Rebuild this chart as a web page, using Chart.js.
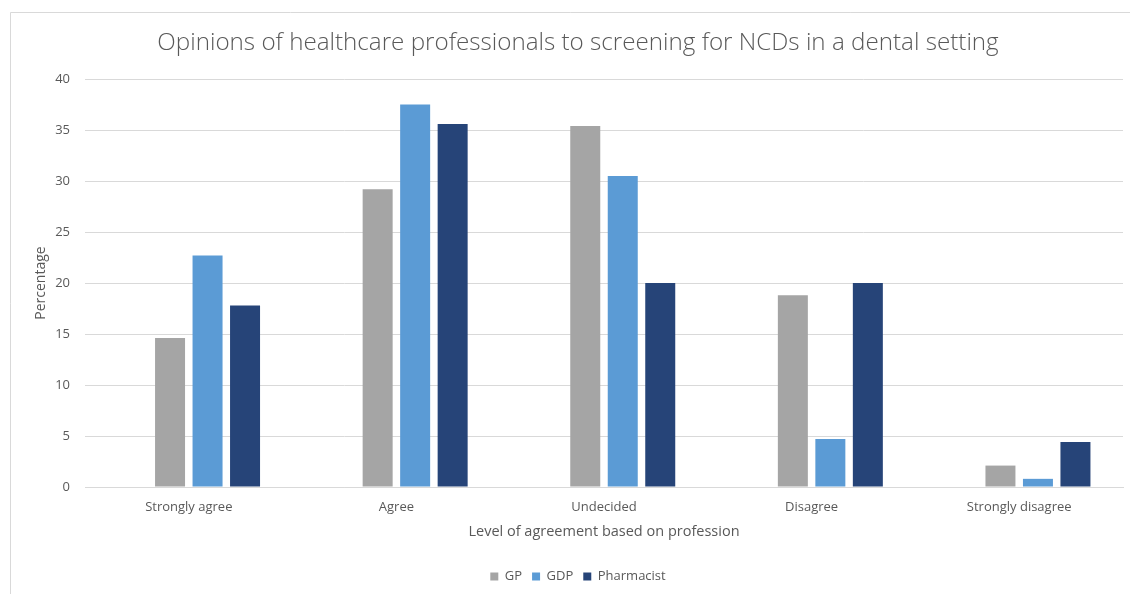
<!DOCTYPE html>
<html>
<head>
<meta charset="utf-8">
<script src="https://cdn.jsdelivr.net/npm/chart.js@4"></script>
<style>
html,body{margin:0;padding:0;background:#fff;}
#wrap{position:absolute;left:0;top:0;width:1130px;height:594px;}
</style>
</head>
<body>
<div id="wrap"><canvas id="c" width="1130" height="594"></canvas></div>
<script>
const categories = ["Strongly agree", "Agree", "Undecided", "Disagree", "Strongly disagree"];
const gpValues = [14.6, 29.2, 35.4, 18.8, 2.1];
const gdpValues = [22.7, 37.5, 30.5, 4.7, 0.8];
const pharmacistValues = [17.8, 35.6, 20.0, 20.0, 4.4];
const emptySeries = [null, null, null, null, null];
const yTicks = [0, 5, 10, 15, 20, 25, 30, 35, 40];

const FONT = "'Open Sans', 'Liberation Sans', sans-serif";
const TXT = '#595959';

const framePlugin = {
  id: 'frame',
  beforeDraw(chart) {
    const ctx = chart.ctx;
    ctx.save();
    ctx.fillStyle = '#fff';
    ctx.fillRect(0, 0, chart.width, chart.height);
    ctx.strokeStyle = '#d9d9d9';
    ctx.lineWidth = 1;
    ctx.beginPath();
    ctx.moveTo(10.5, chart.height);
    ctx.lineTo(10.5, 12.5);
    ctx.lineTo(chart.width, 12.5);
    ctx.stroke();
    ctx.restore();
  }
};

new Chart(document.getElementById('c'), {
  type: 'bar',
  data: {
    labels: categories,
    datasets: [
      { label: '', data: emptySeries, backgroundColor: 'rgba(0,0,0,0)' },
      { label: 'GP', data: gpValues, backgroundColor: '#a5a5a5' },
      { label: 'GDP', data: gdpValues, backgroundColor: '#5b9bd5' },
      { label: 'Pharmacist', data: pharmacistValues, backgroundColor: '#264478' }
    ]
  },
  plugins: [framePlugin],
  options: {
    responsive: false,
    animation: false,
    devicePixelRatio: 1,
    layout: { padding: { left: 33, right: 7, top: 0, bottom: 1 } },
    datasets: { bar: { categoryPercentage: 0.7225, barPercentage: 0.8 } },
    plugins: {
      title: {
        display: true,
        text: 'Opinions of healthcare professionals to screening for NCDs in a dental setting',
        color: TXT,
        font: { family: FONT, size: 24.2, weight: '300' },
        padding: { top: 29, bottom: 21 }
      },
      legend: {
        position: 'bottom',
        labels: {
          filter: (item) => item.text !== '',
          boxWidth: 8, boxHeight: 8,
          color: TXT,
          font: { family: FONT, size: 13 },
          padding: 10
        }
      },
      tooltip: { enabled: false }
    },
    scales: {
      x: {
        afterFit: (scale) => { scale.height = 73; },
        grid: { display: false, drawTicks: false },
        border: { display: true, color: '#d9d9d9' },
        ticks: { color: TXT, font: { family: FONT, size: 13 }, padding: 12, maxRotation: 0 },
        title: { display: true, text: 'Level of agreement based on profession', color: TXT, font: { family: FONT, size: 14.5 }, padding: { top: 7, bottom: 19 } }
      },
      y: {
        min: 0, max: 40,
        afterBuildTicks: (scale) => { scale.ticks = yTicks.map(v => ({ value: v })); },
        afterFit: (scale) => { scale.width = 52; },
        grid: { color: '#d9d9d9', drawTicks: false },
        border: { display: false },
        ticks: { color: TXT, font: { family: FONT, size: 13 }, padding: 15 },
        title: { display: true, text: 'Percentage', color: TXT, font: { family: FONT, size: 14 }, padding: { top: 0, bottom: 4 } }
      }
    }
  }
});
</script>
</body>
</html>
